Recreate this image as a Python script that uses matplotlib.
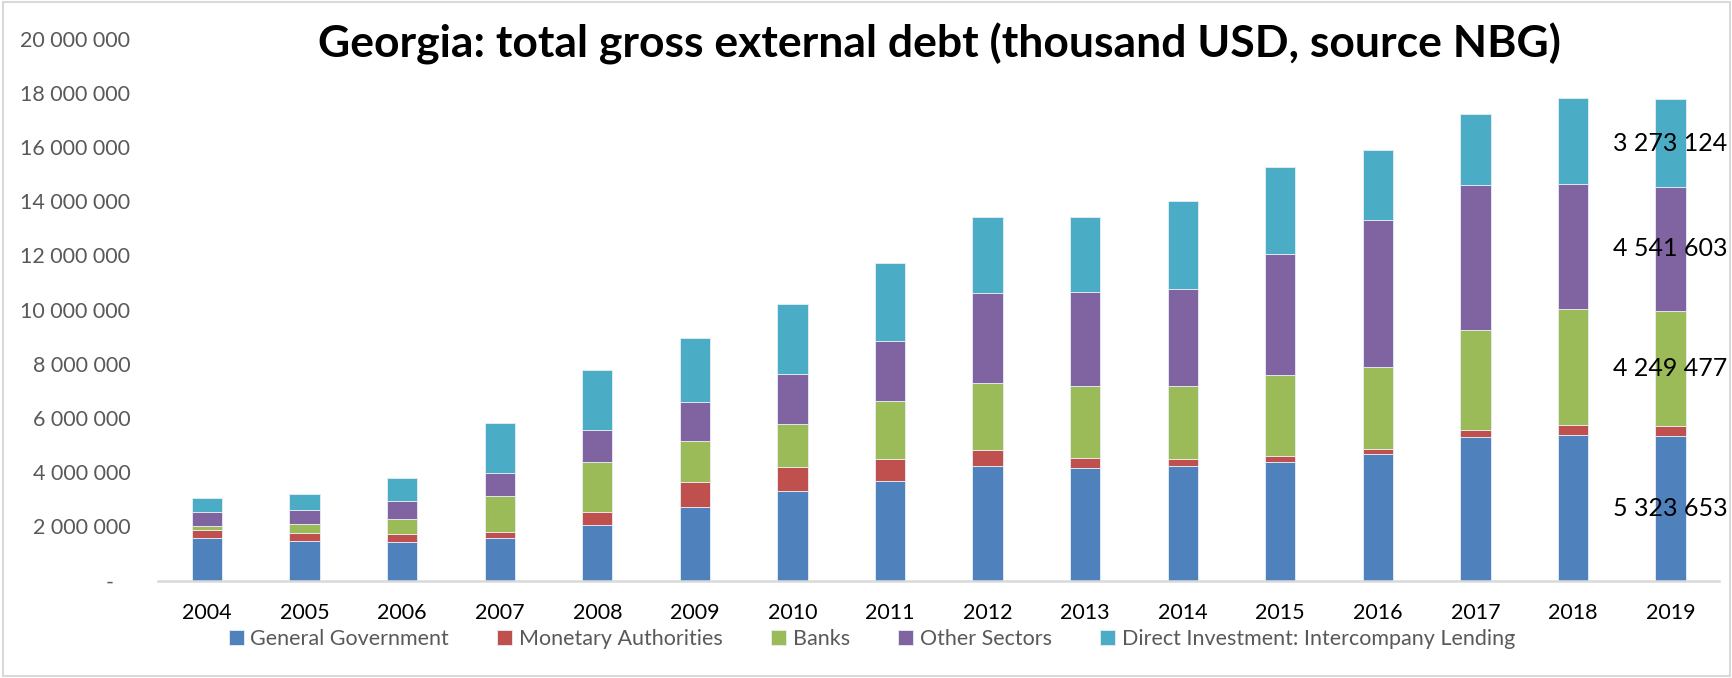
import numpy as np
import matplotlib
matplotlib.use("Agg")
import matplotlib.pyplot as plt
from matplotlib.ticker import FuncFormatter, MultipleLocator
from matplotlib.patches import Rectangle

plt.rcParams['font.family'] = ['Lato', 'DejaVu Sans']

# === Data (thousand USD) ===
years = [str(y) for y in range(2004, 2020)]
general_gov = [1550000, 1460000, 1410000, 1570000, 2050000, 2720000, 3310000, 3670000,
               4230000, 4160000, 4230000, 4390000, 4660000, 5280000, 5370000, 5323653]
monetary = [330000, 280000, 290000, 230000, 460000, 910000, 870000, 810000,
            580000, 360000, 250000, 210000, 210000, 280000, 360000, 390000]
banks = [130000, 330000, 560000, 1310000, 1880000, 1510000, 1610000, 2130000,
         2460000, 2640000, 2710000, 2970000, 3000000, 3700000, 4280000, 4249477]
other = [530000, 540000, 670000, 860000, 1160000, 1450000, 1830000, 2230000,
         3350000, 3480000, 3570000, 4470000, 5430000, 5340000, 4610000, 4541603]
direct_inv = [490000, 580000, 850000, 1830000, 2230000, 2350000, 2580000, 2880000,
              2790000, 2790000, 3230000, 3210000, 2570000, 2630000, 3190000, 3273124]

series = [
    ('General Government', general_gov, '#4F81BD', True),
    ('Monetary Authorities', monetary, '#C0504D', False),
    ('Banks', banks, '#9BBB59', True),
    ('Other Sectors', other, '#8064A2', True),
    ('Direct Investment: Intercompany Lending', direct_inv, '#4BACC6', True),
]


def spaced(v):
    return f"{int(round(v)):,}".replace(",", " ")


fig = plt.figure(figsize=(17.33, 6.78), dpi=100)
ax = fig.add_axes([0.0913, 0.1438, 0.9008, 0.7994])

x = np.arange(len(years))
bottom = np.zeros(len(years))
for name, vals, color, show_last in series:
    vals = np.array(vals, dtype=float)
    bars = ax.bar(x, vals, 0.31, bottom=bottom, color=color, label=name,
                  edgecolor='#e8eef5', linewidth=0.6)
    # only the last year carries value labels
    if show_last:
        labels = [''] * (len(years) - 1) + [spaced(vals[-1])]
        ax.bar_label(bars, labels=labels, label_type='center',
                     fontsize=18, color='black')
    bottom += vals

ax.set_xlim(-0.5, len(years) - 0.5)
ax.set_ylim(0, 20000000)
ax.yaxis.set_major_locator(MultipleLocator(2000000))
ax.yaxis.set_major_formatter(FuncFormatter(lambda v, p: '-   ' if v == 0 else spaced(v)))
ax.set_xticks(x)
ax.set_xticklabels(years)

for s in ['top', 'right', 'left']:
    ax.spines[s].set_visible(False)
ax.spines['bottom'].set_color('#d9d9d9')
ax.spines['bottom'].set_linewidth(1.8)
ax.tick_params(axis='y', length=0, pad=20, labelsize=15.5, labelcolor='#595959')
ax.tick_params(axis='x', length=0, pad=16, labelsize=15.5, labelcolor='black')

fig.text(0.542, 0.915, 'Georgia: total gross external debt (thousand USD, source NBG)',
         ha='center', va='baseline', fontsize=32, fontweight='bold')

leg = fig.legend(loc='center', bbox_to_anchor=(0.503, 0.0575), ncol=5, frameon=False,
                 fontsize=15.5, handlelength=0.7, handleheight=0.7, handletextpad=0.3,
                 columnspacing=2.25)
for t in leg.get_texts():
    t.set_color('#595959')

fig.patches.append(Rectangle((0.002, 0.003), 0.996, 0.994, transform=fig.transFigure,
                             fill=False, edgecolor='#d9d9d9', linewidth=1.5))

fig.savefig('out.png', dpi=100)
